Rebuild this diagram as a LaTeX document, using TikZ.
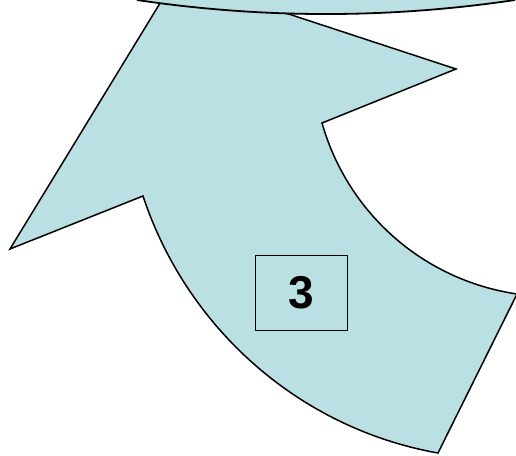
\documentclass[tikz,border=0pt]{standalone}
\usepackage{fontspec}
\setmainfont{Liberation Sans}
\definecolor{fillblue}{HTML}{BBE0E3}
\begin{document}
\begin{tikzpicture}[x=1pt,y=-1pt,
  outline/.style={draw=black,line width=1.5pt,line join=miter,fill=fillblue},
  labelbox/.style={draw=black,line width=1pt,fill=fillblue,minimum width=92pt,minimum height=75pt,inner sep=0pt,font=\bfseries\fontsize{46}{46}\selectfont}]
\useasboundingbox (0,0) rectangle (516,455);
\clip (0,0) rectangle (516,455);
\coordinate (tip) at (176,-23);
\coordinate (ltip) at (10,249);
\coordinate (lnotch) at (143,196);
\coordinate (bot) at (438,453);
\coordinate (rend) at (517,294);
\coordinate (rnotch) at (322,123);
\coordinate (rtip) at (456,69);
% curved block arrow
\path[outline] (tip) -- (ltip) -- (lnotch)
  .. controls (187,329) and (300,428.5) .. (bot)
  -- (rend)
  .. controls (423.3,280.2) and (347.6,213.1) .. (rnotch)
  -- (rtip) -- cycle;
% ellipse at the top
\path[fill=fillblue,draw=black,line width=1.8pt] (137,0) .. controls (263,18.7) and (389,18.7) .. (515,0);
\fill[fillblue] (137,0) -- (515,0) -- (515,-3) -- (137,-3) -- cycle;
% label
\node[labelbox] (lbl) at (301,292.5) {3};
\end{tikzpicture}
\end{document}
